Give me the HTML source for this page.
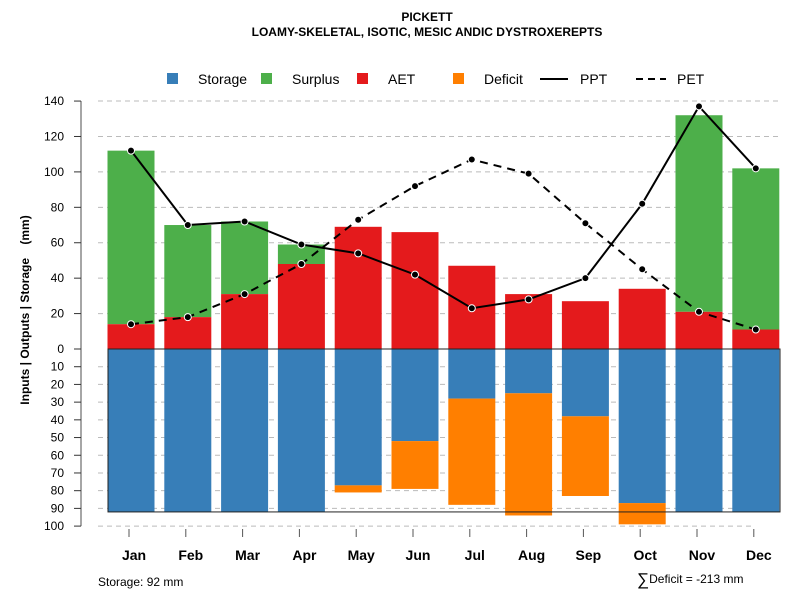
<!DOCTYPE html>
<html><head><meta charset="utf-8"><style>
body{margin:0;background:#fff;font-family:"Liberation Sans",sans-serif}
svg text{font-family:"Liberation Sans",sans-serif;white-space:pre}
</style></head><body>
<svg id="c" width="800" height="600" xmlns="http://www.w3.org/2000/svg"></svg>
<script>
const months=["Jan","Feb","Mar","Apr","May","Jun","Jul","Aug","Sep","Oct","Nov","Dec"];
const aet=[14,18,31,48,69,66,47,31,27,34,21,11];
const surplusTop=[112,70,72,59,69,66,47,31,27,34,132,102];
const ppt=[112,70,72,59,54,42,23,28,40,82,137,102];
const pet=[14,18,31,48,73,92,107,99,71,45,21,11];
const storage=[92,92,92,92,77,52,28,25,38,87,92,92];
const deficitBottom=[92,92,92,92,81,79,88,94,83,99,92,92];
const upTicks=[0,20,40,60,80,100,120,140];
const downTicks=[10,20,30,40,50,60,70,80,90,100];
const NS="http://www.w3.org/2000/svg";
const svg=document.getElementById('c');
const y0=349,k=1.771;
const yUp=v=>y0-v*k, yDn=v=>y0+v*k;
const xC=i=>131+i*56.8, bw=47;
function el(t,a,txt){const e=document.createElementNS(NS,t);for(const n in a)e.setAttribute(n,a[n]);if(txt!==undefined)e.textContent=txt;svg.appendChild(e);return e;}
// grid
upTicks.slice(1).forEach(v=>{const g=el('line',{x1:98,x2:780,y1:yUp(v),y2:yUp(v),stroke:'#bbb','stroke-dasharray':'5,4'});

});
downTicks.forEach(v=>{const g=el('line',{x1:98,x2:v==100?755:780,y1:yDn(v),y2:yDn(v),stroke:'#bbb','stroke-dasharray':'5,4'});

});
// bars
months.forEach((m,i)=>{const x=xC(i)-bw/2;
 let r=el('rect',{x:x,y:yUp(surplusTop[i]),width:bw,height:(surplusTop[i]-aet[i])*k,fill:'#4daf4a'});
 
 
 r=el('rect',{x:x,y:yUp(aet[i]),width:bw,height:aet[i]*k,fill:'#e41a1c'});
 
 
 r=el('rect',{x:x,y:y0,width:bw,height:storage[i]*k,fill:'#377eb8'});
 
 
 if(deficitBottom[i]>storage[i]){r=el('rect',{x:x,y:yDn(storage[i]),width:bw,height:(deficitBottom[i]-storage[i])*k,fill:'#ff7f00'});
 
 }
});
let box=el('rect',{x:108,y:y0,width:672,height:92*k,fill:'none',stroke:'#222','stroke-width':1});


// lines
const ptsP=ppt.map((v,i)=>xC(i)+','+yUp(v)).join(' ');
const ptsE=pet.map((v,i)=>xC(i)+','+yUp(v)).join(' ');
let l=el('polyline',{points:ptsE,fill:'none',stroke:'#000','stroke-width':2,'stroke-dasharray':'8,6'});


l=el('polyline',{points:ptsP,fill:'none',stroke:'#000','stroke-width':2});


[ppt,pet].forEach((s,j)=>s.forEach((v,i)=>{const c=el('circle',{cx:xC(i),cy:yUp(v),r:3.5,fill:'#000',stroke:'#fff','stroke-width':1});

}));
// axes
let ax=el('line',{x1:81,x2:81,y1:yUp(140),y2:yDn(100),stroke:'#888','stroke-width':1.5});


upTicks.forEach(v=>{el('line',{x1:74,x2:81,y1:yUp(v),y2:yUp(v),stroke:'#333'});
 const t=el('text',{x:64,y:yUp(v)+4,'font-size':12,'text-anchor':'end'},v);
 
 });
downTicks.forEach(v=>{el('line',{x1:74,x2:81,y1:yDn(v),y2:yDn(v),stroke:'#333'});
 const t=el('text',{x:64,y:yDn(v)+4,'font-size':12,'text-anchor':'end'},v);
 
 });
months.forEach((m,i)=>{el('line',{x1:xC(i)-2,x2:xC(i)-2,y1:529,y2:537,stroke:'#555'});
 const t=el('text',{x:xC(i)+3,y:560,'font-size':14,'font-weight':'bold','text-anchor':'middle'},m);
 
 });
let t=el('text',{x:29,y:310,'font-size':12,'font-weight':'bold','text-anchor':'middle',transform:'rotate(-90 29 310)'},'Inputs | Outputs | Storage    (mm)');


t=el('text',{x:427,y:21,'font-size':12,'font-weight':'bold','text-anchor':'middle'},'PICKETT');


t=el('text',{x:427,y:36,'font-size':12,'font-weight':'bold','text-anchor':'middle'},'LOAMY-SKELETAL, ISOTIC, MESIC ANDIC DYSTROXEREPTS');


t=el('text',{x:98,y:586,'font-size':12},'Storage: 92 mm');


t=el('text',{x:637,y:583,'font-size':12});


t.innerHTML='<tspan font-size="17" dy="2">∑</tspan><tspan dy="-2">Deficit = -213 mm</tspan>';
// legend
const leg=[['Storage','#377eb8',167],['Surplus','#4daf4a',261],['AET','#e41a1c',357],['Deficit','#ff7f00',453]];
leg.forEach(([n,c,x])=>{const r=el('rect',{x:x,y:73,width:11,height:11,fill:c});
 
 
 const tt=el('text',{x:x+31,y:84,'font-size':14},n);
 
 });
el('line',{x1:540,x2:568,y1:79,y2:79,stroke:'#000','stroke-width':2});
t=el('text',{x:580,y:84,'font-size':14},'PPT');


el('line',{x1:636,x2:666,y1:79,y2:79,stroke:'#000','stroke-width':2,'stroke-dasharray':'7,5'});
t=el('text',{x:677,y:84,'font-size':14},'PET');


</script>
</body></html>
